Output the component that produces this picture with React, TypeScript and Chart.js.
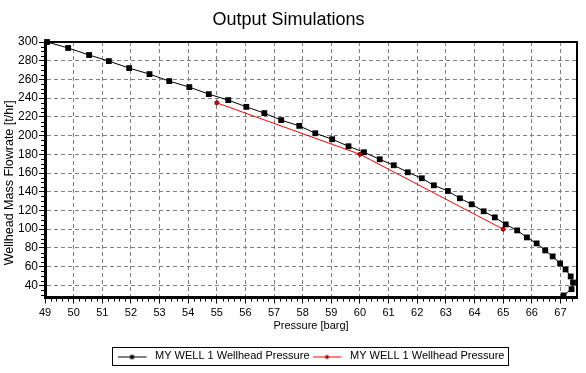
import React, { useEffect, useRef } from "react";
import { Chart, registerables } from "chart.js";

Chart.register(...registerables);

const TITLE = "Output Simulations";
const X_TITLE = "Pressure [barg]";
const Y_TITLE = "Wellhead Mass Flowrate [t/hr]";
const SERIES_LABELS = ["MY WELL 1 Wellhead Pressure", "MY WELL 1 Wellhead Pressure"];

const X_TICKS = [49, 50, 51, 52, 53, 54, 55, 56, 57, 58, 59, 60, 61, 62, 63, 64, 65, 66, 67];
const Y_TICKS = [40, 60, 80, 100, 120, 140, 160, 180, 200, 220, 240, 260, 280, 300];
const X_MIN = 49;
const X_MAX = 67.58;
const Y_MIN = 27;
const Y_MAX = 300;

const BLACK_X = [
  49.07, 49.81, 50.54, 51.23, 51.94, 52.65, 53.34, 54.04, 54.72, 55.4,
  56.03, 56.66, 57.25, 57.88, 58.44, 59.03, 59.6, 60.14, 60.69, 61.18,
  61.67, 62.16, 62.58, 63.07, 63.49, 63.9, 64.32, 64.71, 65.09, 65.49,
  65.83, 66.17, 66.47, 66.73, 66.99, 67.18, 67.36, 67.44, 67.39, 67.11,
];
const BLACK_Y = [
  300, 293.6, 286.1, 279.6, 272.1, 265.7, 258.2, 251.8, 244.3, 237.9,
  230.7, 224.0, 216.5, 210.4, 202.5, 196.1, 188.6, 182.2, 174.7, 168.3,
  160.8, 154.4, 146.9, 140.8, 133.0, 126.6, 119.1, 112.6, 105.1, 98.7,
  91.2, 84.8, 77.3, 70.9, 63.4, 57.0, 49.5, 43.0, 35.9, 29.2,
];
const RED_X = [55, 60, 65];
const RED_Y = [235, 180, 100];

const FONT = "'Liberation Sans', Arial, sans-serif";

function makeLegendIcon(kind: "square" | "dot"): HTMLCanvasElement {
  const c = document.createElement("canvas");
  c.width = 32;
  c.height = 9;
  const g = c.getContext("2d")!;
  const y = 5.5;
  g.strokeStyle = kind === "square" ? "#000" : "#ff0000";
  g.lineWidth = 1;
  g.beginPath();
  g.moveTo(0, y);
  g.lineTo(29, y);
  g.stroke();
  if (kind === "square") {
    g.fillStyle = "#000";
    g.fillRect(12.5, y - 2, 4, 4);
  } else {
    g.fillStyle = "#cc0000";
    g.strokeStyle = "#800000";
    g.beginPath();
    g.arc(14.5, y, 1.6, 0, Math.PI * 2);
    g.fill();
    g.stroke();
  }
  return c;
}

const framePlugin = {
  id: "frame",
  beforeDatasetsDraw(chart: any) {
    const { ctx, chartArea: a } = chart;
    ctx.save();
    ctx.strokeStyle = "#000";
    ctx.lineWidth = 2;
    ctx.beginPath();
    ctx.moveTo(a.left, a.top);
    ctx.lineTo(a.right, a.top);
    ctx.lineTo(a.right, a.bottom);
    ctx.stroke();
    // minor ticks
    ctx.lineWidth = 1;
    const xs = chart.scales.x;
    const ys = chart.scales.y;
    ctx.beginPath();
    for (let i = 0; i * 0.2 + X_MIN <= X_MAX + 1e-9; i++) {
      if (i % 5 === 0) continue;
      const px = Math.round(xs.getPixelForValue(X_MIN + i * 0.2)) + 0.5;
      ctx.moveTo(px, a.bottom);
      ctx.lineTo(px, a.bottom + 4);
    }
    for (let v = 30; v <= Y_MAX; v += 5) {
      if (v % 20 === 0) continue;
      const py = Math.round(ys.getPixelForValue(v)) + 0.5;
      ctx.moveTo(a.left - 4, py);
      ctx.lineTo(a.left, py);
    }
    ctx.stroke();
    ctx.restore();
  },
  afterDraw(chart: any) {
    const { ctx, chartArea: a } = chart;
    ctx.save();
    // y axis title
    ctx.fillStyle = "#000";
    ctx.font = `12.5px ${FONT}`;
    ctx.textAlign = "center";
    ctx.textBaseline = "middle";
    ctx.translate(9.5, (a.top + a.bottom) / 2 + 13);
    ctx.rotate(-Math.PI / 2);
    ctx.fillText(Y_TITLE, 0, 0);
    ctx.restore();
    // legend frame
    const lg = chart.legend;
    if (lg && lg.legendHitBoxes && lg.legendHitBoxes.length) {
      const hb = lg.legendHitBoxes;
      const first = hb[0];
      const last = hb[hb.length - 1];
      const cy = first.top + first.height / 2;
      const left = Math.round(first.left - 6) + 0.5;
      const right = Math.round(last.left + last.width + 4) + 0.5;
      const top = Math.round(cy - 9) + 0.5;
      ctx.save();
      ctx.strokeStyle = "#000";
      ctx.lineWidth = 1;
      ctx.strokeRect(left, top, right - left, 18);
      ctx.restore();
    }
  },
};

export default function App() {
  const ref = useRef<HTMLCanvasElement | null>(null);
  useEffect(() => {
    if (!ref.current) return;
    const icons = [makeLegendIcon("square"), makeLegendIcon("dot")];
    const chart = new Chart(ref.current, {
      type: "scatter",
      data: {
        datasets: [
          {
            label: SERIES_LABELS[0],
            data: BLACK_X.map((x, i) => ({ x, y: BLACK_Y[i] })),
            showLine: true,
            borderColor: "#000",
            borderWidth: 1,
            backgroundColor: "#000",
            pointStyle: "rect",
            pointRadius: 4.1,
            pointBorderWidth: 0,
            pointBackgroundColor: "#000",
            clip: false,
          },
          {
            label: SERIES_LABELS[1],
            data: RED_X.map((x, i) => ({ x, y: RED_Y[i] })),
            showLine: true,
            borderColor: "#ff0000",
            borderWidth: 1,
            backgroundColor: "#cc0000",
            pointStyle: "circle",
            pointRadius: 2,
            pointBorderWidth: 1,
            pointBorderColor: "#800000",
            pointBackgroundColor: "#e00000",
            clip: false,
          },
        ],
      },
      options: {
        animation: false,
        responsive: false,
        events: [],
        layout: { padding: { left: 0, right: 9, top: 0, bottom: 1.5 } },
        plugins: {
          tooltip: { enabled: false },
          title: {
            display: true,
            text: TITLE,
            color: "#000",
            font: { family: FONT, size: 18, weight: "normal" },
            padding: { top: 9.7, bottom: 10.7 },
          },
          legend: {
            display: true,
            position: "bottom",
            fullSize: false,
            labels: {
              usePointStyle: true,
              pointStyleWidth: 32,
              padding: 3,
              color: "#000",
              font: { family: FONT, size: 11 },
              generateLabels: (chart: any) => {
                const items = Chart.defaults.plugins.legend.labels.generateLabels(chart);
                return items.map((it: any, i: number) => ({ ...it, pointStyle: icons[i] }));
              },
            },
          },
        },
        scales: {
          x: {
            type: "linear",
            min: X_MIN,
            max: X_MAX,
            afterFit: (s: any) => {
              s.height = 50;
            },
            afterBuildTicks: (s: any) => {
              s.ticks = X_TICKS.map((v) => ({ value: v }));
            },
            ticks: {
              color: "#000",
              font: { family: FONT, size: 11 },
              padding: 3,
              maxRotation: 0,
              autoSkip: false,
            },
            grid: {
              color: "#808080",
              tickColor: "#000",
              tickBorderDash: [],
              tickLength: 6,
              drawTicks: true,
            },
            border: { display: true, color: "#000", width: 3, dash: [4, 3] },
            title: {
              display: true,
              text: X_TITLE,
              color: "#000",
              font: { family: FONT, size: 11 },
              padding: { top: 0, bottom: 15.4 },
            },
          },
          y: {
            type: "linear",
            min: Y_MIN,
            max: Y_MAX,
            afterFit: (s: any) => {
              s.width = 45;
            },
            afterBuildTicks: (s: any) => {
              s.ticks = Y_TICKS.map((v) => ({ value: v }));
            },
            ticks: {
              color: "#000",
              font: { family: FONT, size: 12 },
              padding: 1,
              autoSkip: false,
            },
            grid: {
              color: "#808080",
              tickColor: "#000",
              tickBorderDash: [],
              tickLength: 6,
              drawTicks: true,
            },
            border: { display: true, color: "#000", width: 3, dash: [4, 3] },
          },
        },
      },
      plugins: [framePlugin],
    } as any);
    return () => chart.destroy();
  }, []);

  return (
    <div style={{ position: "fixed", left: 0, top: 0, width: 586, height: 373, background: "#fff" }}>
      <canvas ref={ref} width={586} height={373} style={{ display: "block" }} />
    </div>
  );
}
